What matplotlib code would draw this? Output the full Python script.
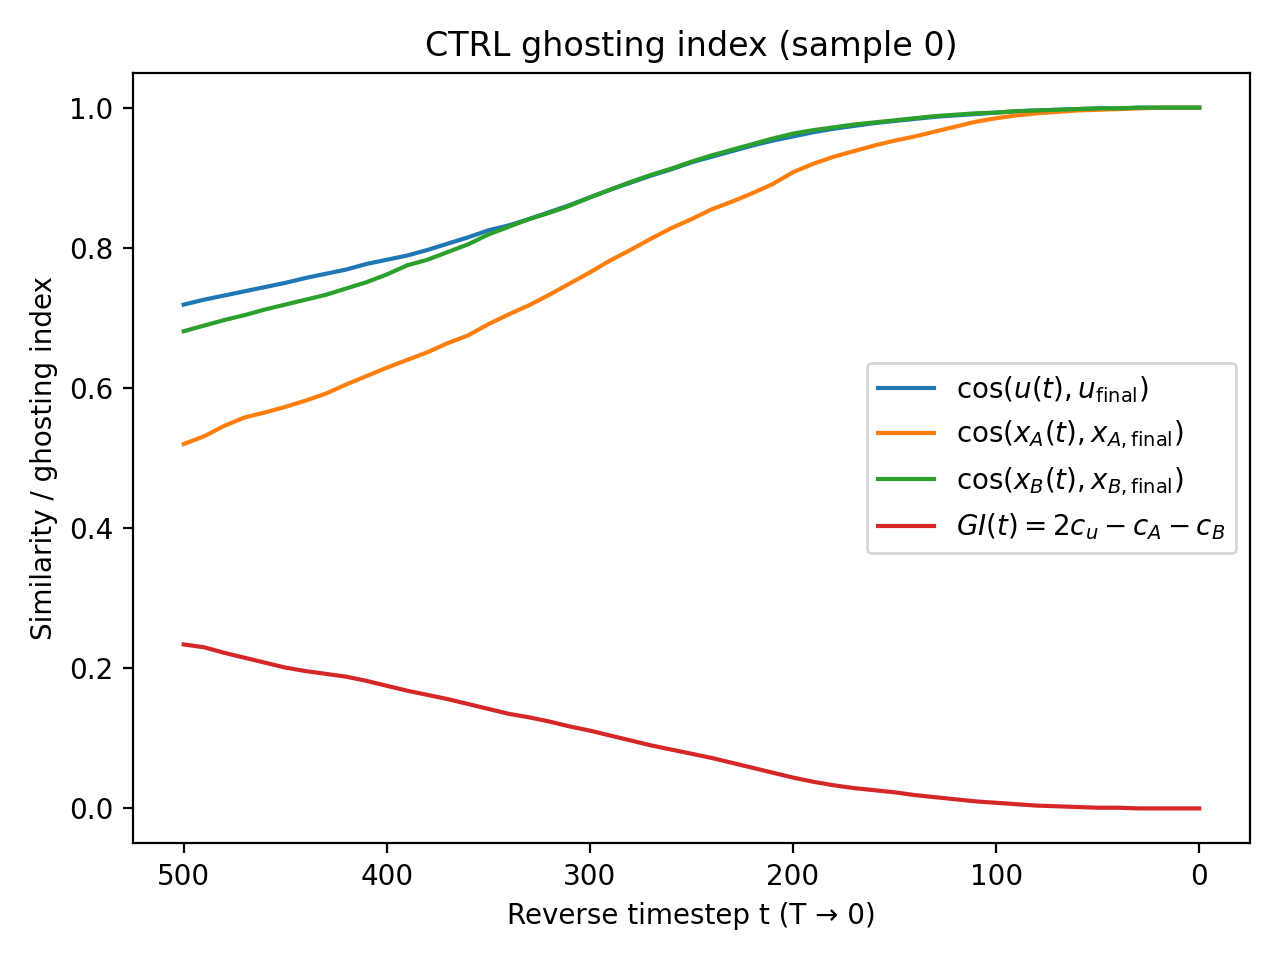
import numpy as np
import matplotlib
matplotlib.use("Agg")
import matplotlib.pyplot as plt

# reverse timesteps, read every 10 steps
t = np.arange(500, -1, -10)

c_u = [0.719, 0.726, 0.732, 0.738, 0.744, 0.750, 0.757, 0.763, 0.769, 0.777,
       0.783, 0.789, 0.797, 0.806, 0.815, 0.825, 0.832, 0.841, 0.851, 0.861,
       0.872, 0.883, 0.893, 0.903, 0.912, 0.922, 0.930, 0.938, 0.946, 0.953,
       0.959, 0.965, 0.970, 0.974, 0.978, 0.981, 0.984, 0.987, 0.989, 0.991,
       0.993, 0.995, 0.996, 0.997, 0.998, 0.999, 0.999, 1.000, 1.000, 1.000,
       1.000]

c_A = [0.520, 0.531, 0.546, 0.558, 0.565, 0.573, 0.582, 0.592, 0.605, 0.617,
       0.629, 0.640, 0.651, 0.664, 0.675, 0.691, 0.705, 0.718, 0.733, 0.749,
       0.765, 0.782, 0.797, 0.813, 0.828, 0.841, 0.855, 0.866, 0.878, 0.891,
       0.908, 0.920, 0.930, 0.938, 0.946, 0.953, 0.959, 0.966, 0.973, 0.980,
       0.985, 0.989, 0.992, 0.994, 0.996, 0.997, 0.998, 0.999, 1.000, 1.000,
       1.000]

c_B = [0.681, 0.689, 0.697, 0.704, 0.712, 0.719, 0.726, 0.733, 0.742, 0.751,
       0.762, 0.775, 0.783, 0.794, 0.805, 0.819, 0.830, 0.841, 0.850, 0.860,
       0.872, 0.883, 0.894, 0.904, 0.913, 0.923, 0.932, 0.940, 0.948, 0.956,
       0.963, 0.968, 0.972, 0.976, 0.979, 0.982, 0.985, 0.988, 0.990, 0.992,
       0.993, 0.995, 0.996, 0.997, 0.998, 0.999, 0.999, 1.000, 1.000, 1.000,
       1.000]

gi = [0.234, 0.230, 0.222, 0.215, 0.208, 0.201, 0.196, 0.192, 0.188, 0.182,
      0.175, 0.168, 0.162, 0.156, 0.149, 0.142, 0.135, 0.130, 0.124, 0.117,
      0.111, 0.104, 0.097, 0.090, 0.084, 0.078, 0.072, 0.065, 0.058, 0.051,
      0.044, 0.038, 0.033, 0.029, 0.026, 0.023, 0.019, 0.016, 0.013, 0.010,
      0.008, 0.006, 0.004, 0.003, 0.002, 0.001, 0.001, 0.000, 0.000, 0.000,
      0.000]

fig, ax = plt.subplots(figsize=(6.4, 4.8), dpi=200)
ax.plot(t, c_u, label=r'$\cos(u(t), u_{\rm final})$')
ax.plot(t, c_A, label=r'$\cos(x_A(t), x_{A,\rm final})$')
ax.plot(t, c_B, label=r'$\cos(x_B(t), x_{B,\rm final})$')
ax.plot(t, gi, label=r'$GI(t) = 2c_u - c_A - c_B$')
ax.invert_xaxis()
ax.set_xlabel('Reverse timestep t (T → 0)')
ax.set_ylabel('Similarity / ghosting index')
ax.set_title('CTRL ghosting index (sample 0)')
ax.legend(loc='center right')
plt.tight_layout()
plt.savefig('out.png')
